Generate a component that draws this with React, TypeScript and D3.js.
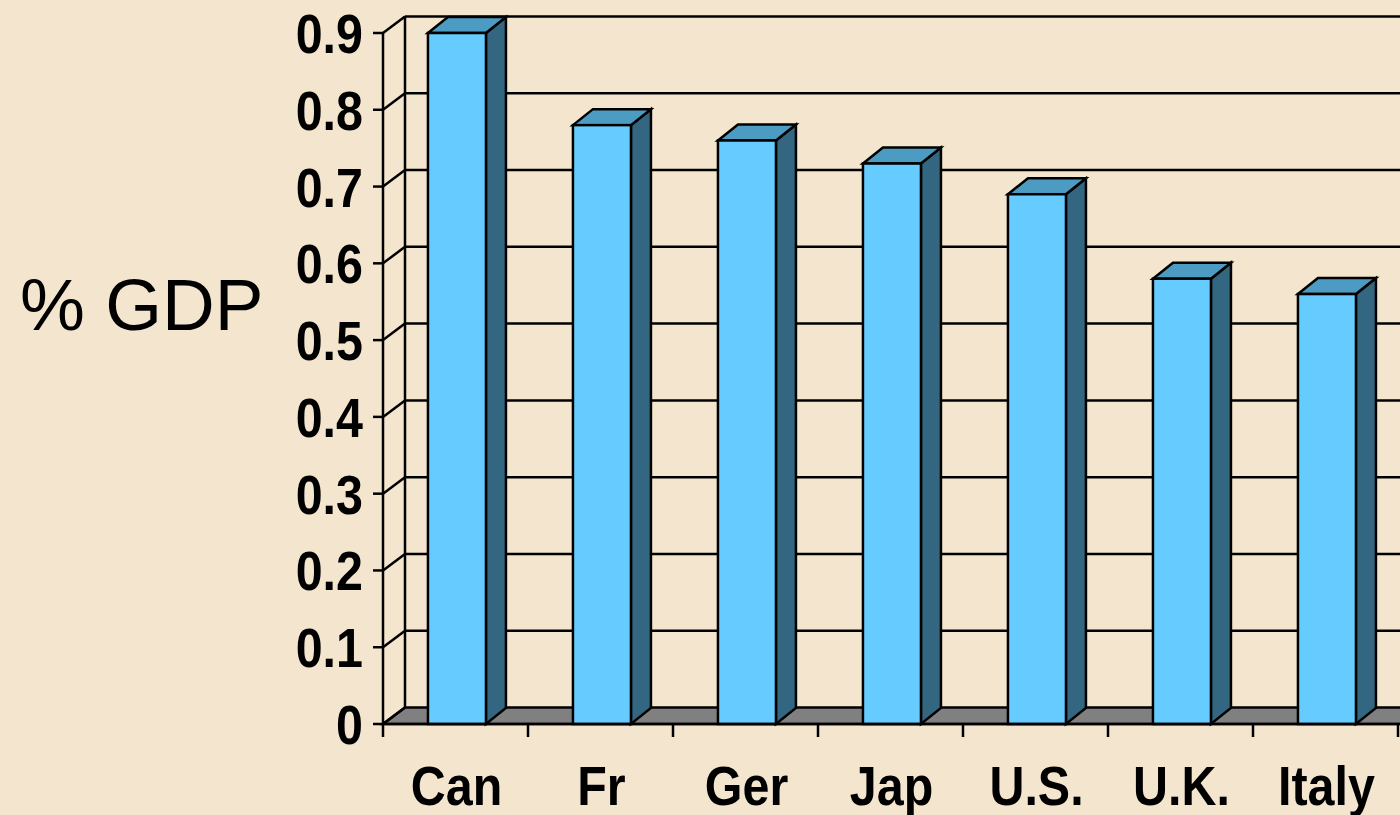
import React from "react";
import * as d3 from "d3";

const categories = ["Can", "Fr", "Ger", "Jap", "U.S.", "U.K.", "Italy"];
const values = [0.9, 0.78, 0.76, 0.73, 0.69, 0.58, 0.56];
const yTicks = [0, 0.1, 0.2, 0.3, 0.4, 0.5, 0.6, 0.7, 0.8, 0.9];
const yTickLabels = ["0", "0.1", "0.2", "0.3", "0.4", "0.5", "0.6", "0.7", "0.8", "0.9"];
const yTitle = "% GDP";

const W = 1400;
const H = 815;
const BG = "#F4E6CE";
const FRONT = "#66CCFF";
const SIDE = "#336680";
const TOP = "#4C9BC3";
const FLOOR = "#808080";
const INK = "#000";

export default function App() {
  const x0 = 383;
  const x1 = 1398;
  const wallDx = 22;
  const wallDy = 16.5;
  const barDx = 20;
  const barDy = 16;

  const x = d3.scaleBand<string>().domain(categories).range([x0, x1]).padding(0);
  const y = d3.scaleLinear().domain([0, 0.9]).range([724, 33]);
  const bw = x.bandwidth();
  const y0 = y(0);
  const fontLbl = "'Liberation Sans', Arial, Helvetica, sans-serif";
  const sx = 0.865;

  const pts = (a: [number, number][]) => a.map((p) => p.join(",")).join(" ");

  return (
    <svg
      width={W}
      height={H}
      style={{ position: "fixed", left: 0, top: 0, background: BG }}
    >
      <rect x={0} y={0} width={W} height={H} fill={BG} />
      {/* floor */}
      <polygon
        points={pts([
          [x0, y0],
          [x0 + wallDx, y0 - wallDy],
          [W + 10, y0 - wallDy],
          [W + 10, y0],
        ])}
        fill={FLOOR}
        stroke={INK}
        strokeWidth={2.5}
      />
      {/* back wall gridlines */}
      {yTicks.map((t, i) => (
        <g key={"g" + i}>
          {t > 0 && (
            <line
              x1={x0 + wallDx}
              x2={W + 10}
              y1={y(t) - wallDy}
              y2={y(t) - wallDy}
              stroke={INK}
              strokeWidth={2.5}
            />
          )}
          <line
            x1={x0}
            y1={y(t)}
            x2={x0 + wallDx}
            y2={y(t) - wallDy}
            stroke={INK}
            strokeWidth={2.5}
          />
          <line x1={x0 - 10} x2={x0} y1={y(t)} y2={y(t)} stroke={INK} strokeWidth={2.5} />
        </g>
      ))}
      {/* back wall vertical */}
      <line
        x1={x0 + wallDx}
        x2={x0 + wallDx}
        y1={y(0.9) - wallDy}
        y2={y0 - wallDy}
        stroke={INK}
        strokeWidth={2.5}
      />
      {/* front y axis */}
      <line x1={x0} x2={x0} y1={y(0.9)} y2={y0 + 13} stroke={INK} strokeWidth={2.5} />
      {/* bars */}
      {categories.map((c, i) => {
        const bx = (x(c) as number) + bw * 0.31;
        const w = bw * 0.4;
        const ty = y(values[i]);
        return (
          <g key={c} stroke={INK} strokeWidth={2.5} strokeLinejoin="miter">
            <polygon
              points={pts([
                [bx + w, ty],
                [bx + w + barDx, ty - barDy],
                [bx + w + barDx, y0 - barDy],
                [bx + w, y0],
              ])}
              fill={SIDE}
            />
            <polygon
              points={pts([
                [bx, ty],
                [bx + barDx, ty - barDy],
                [bx + w + barDx, ty - barDy],
                [bx + w, ty],
              ])}
              fill={TOP}
            />
            <rect x={bx} y={ty} width={w} height={y0 - ty} fill={FRONT} />
          </g>
        );
      })}
      {/* front floor edge */}
      <line x1={x0} x2={W + 10} y1={y0} y2={y0} stroke={INK} strokeWidth={2.5} />
      {/* x ticks */}
      {categories.map((c, i) => (
        <line
          key={"xt" + i}
          x1={(x(c) as number) + bw}
          x2={(x(c) as number) + bw}
          y1={y0}
          y2={y0 + 13}
          stroke={INK}
          strokeWidth={2.5}
        />
      ))}
      {/* y tick labels */}
      {yTicks.map((t, i) => (
        <text
          key={"yl" + i}
          transform={`translate(${363},${y(t) + 20}) scale(${sx},1)`}
          textAnchor="end"
          fontFamily={fontLbl}
          fontWeight="bold"
          fontSize={56}
          fill={INK}
        >
          {yTickLabels[i]}
        </text>
      ))}
      {/* category labels */}
      {categories.map((c) => (
        <text
          key={"xl" + c}
          transform={`translate(${(x(c) as number) + bw / 2 + 1},${805}) scale(${sx},1)`}
          textAnchor="middle"
          fontFamily={fontLbl}
          fontWeight="bold"
          fontSize={56}
          fill={INK}
        >
          {c}
        </text>
      ))}
      {/* axis title */}
      <text
        x={20}
        y={330}
        fontFamily={fontLbl}
        fontSize={73}
        fill={INK}
      >
        {yTitle}
      </text>
    </svg>
  );
}
